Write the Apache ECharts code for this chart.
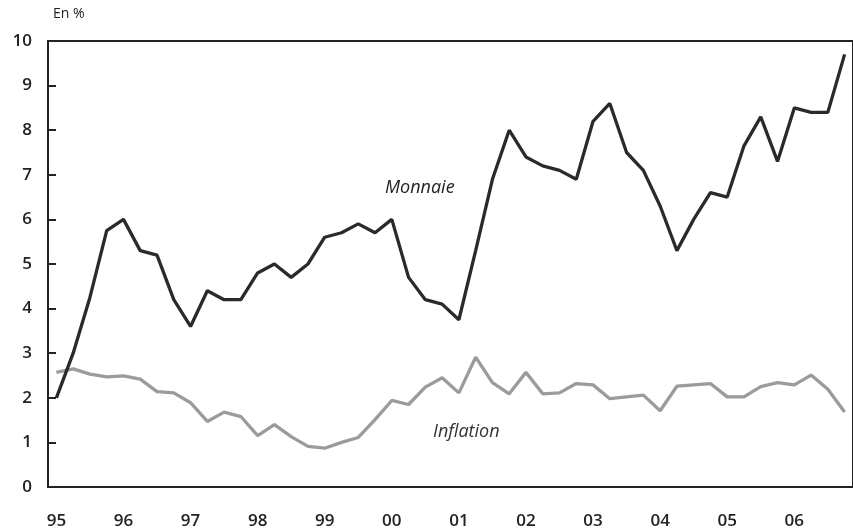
<!DOCTYPE html>
<html>
<head>
<meta charset="utf-8">
<script src="https://cdn.jsdelivr.net/npm/echarts@6/dist/echarts.min.js"></script>
<style>
  html, body { margin: 0; padding: 0; background: #fff; }
  #chart { width: 853px; height: 530px; }
</style>
</head>
<body>
<div id="chart"></div>
<script>
// années affichées sous l'axe (une par 4 trimestres)
const years = ['95', '96', '97', '98', '99', '00', '01', '02', '03', '04', '05', '06'];
const quarters = ['T1', 'T2', 'T3', 'T4'];

// séries trimestrielles, en %
const monnaie = [
  2.0, 3.0, 4.25, 5.75, 6.0, 5.3, 5.2, 4.2,
  3.6, 4.4, 4.2, 4.2, 4.8, 5.0, 4.7, 5.0,
  5.6, 5.7, 5.9, 5.7, 6.0, 4.7, 4.2, 4.1,
  3.75, 5.3, 6.9, 8.0, 7.4, 7.2, 7.1, 6.9,
  8.2, 8.6, 7.5, 7.1, 6.3, 5.3, 6.0, 6.6,
  6.5, 7.65, 8.3, 7.3, 8.5, 8.4, 8.4, 9.7
];
const inflation = [
  2.57, 2.65, 2.53, 2.47, 2.49, 2.42, 2.14, 2.11,
  1.89, 1.47, 1.68, 1.58, 1.15, 1.4, 1.13, 0.91,
  0.87, 1.0, 1.11, 1.51, 1.94, 1.85, 2.24, 2.45,
  2.11, 2.91, 2.34, 2.09, 2.57, 2.09, 2.11, 2.32,
  2.29, 1.98, 2.02, 2.06, 1.71, 2.26, 2.29, 2.32,
  2.02, 2.02, 2.25, 2.34, 2.29, 2.51, 2.19, 1.68
];

const categories = [];
years.forEach(y => quarters.forEach(q => categories.push(y + q)));

const chart = echarts.init(document.getElementById('chart'));

const option = {
  animation: false,
  textStyle: { fontFamily: 'Open Sans' },
  grid: {
    left: 48,
    right: -6,
    top: 41,
    bottom: 42,
    show: true,
    borderColor: '#222',
    borderWidth: 2
  },
  xAxis: {
    type: 'category',
    data: categories,
    boundaryGap: true,
    axisLine: { lineStyle: { color: '#222', width: 2 } },
    axisTick: { inside: true, length: 7, interval: 3, lineStyle: { color: '#222', width: 2 } },
    axisLabel: {
      interval: 3,
      margin: 26,
      fontSize: 17,
      fontWeight: 600,
      color: '#222',
      formatter: v => v.slice(0, 2)
    },
    splitLine: { show: false }
  },
  yAxis: {
    type: 'value',
    min: 0,
    max: 10,
    interval: 1,
    axisLine: { show: true, lineStyle: { color: '#222', width: 2 } },
    axisTick: { show: true, inside: true, length: 8, lineStyle: { color: '#222', width: 2 } },
    axisLabel: { margin: 16, fontSize: 17, fontWeight: 600, color: '#222' },
    splitLine: { show: false }
  },
  series: [
    {
      name: 'Inflation',
      type: 'line',
      data: inflation,
      showSymbol: false,
      lineStyle: { color: '#9b9b9b', width: 3.3 },
      z: 2
    },
    {
      name: 'Monnaie',
      type: 'line',
      data: monnaie,
      showSymbol: false,
      lineStyle: { color: '#2a2a2a', width: 3.3 },
      z: 3
    }
  ],
  graphic: [
    {
      type: 'text', left: 53, top: 7,
      style: { text: 'En %', fontSize: 14, fontFamily: 'Open Sans', fill: '#222' }
    },
    {
      type: 'text', left: 385, top: 179,
      style: { text: 'Monnaie', fontSize: 18, fontStyle: 'italic', fontFamily: 'Open Sans', fill: '#222' }
    },
    {
      type: 'text', left: 433, top: 423,
      style: { text: 'Inflation', fontSize: 18, fontStyle: 'italic', fontFamily: 'Open Sans', fill: '#333' }
    }
  ]
};

chart.setOption(option);
</script>
</body>
</html>
